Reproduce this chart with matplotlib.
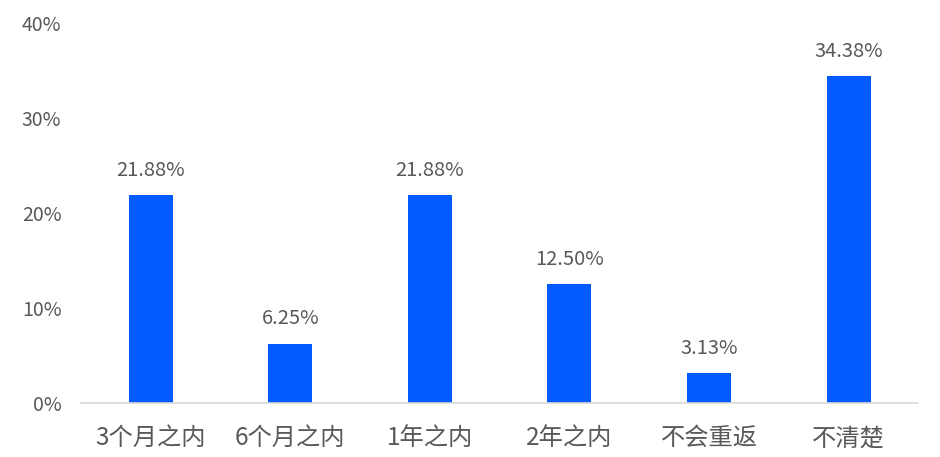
import matplotlib
matplotlib.use("Agg")
import matplotlib.pyplot as plt
from matplotlib.ticker import FuncFormatter

plt.rcParams["font.family"] = ["Noto Sans CJK SC", "DejaVu Sans"]

categories = ["3个月之内", "6个月之内", "1年之内", "2年之内", "不会重返", "不清楚"]
shares = [21.88, 6.25, 21.88, 12.50, 3.13, 34.38]
y_ticks = [0, 10, 20, 30, 40]

BAR_COLOR = "#005CFF"
TEXT_COLOR = "#595959"

fig = plt.figure(figsize=(9.4, 4.57), dpi=100)
ax = fig.add_axes([0.086, 0.118, 0.891, 0.832])

x = range(len(categories))
ax.bar(x, shares, width=0.315, color=BAR_COLOR, zorder=2)

for xi, v in zip(x, shares):
    ax.text(xi, v + 1.5, f"{v:.2f}%", ha="center", va="bottom",
            fontsize=14.5, color=TEXT_COLOR, fontweight="light")

ax.set_xlim(-0.5, len(categories) - 0.5)
ax.set_ylim(0, 40)
ax.set_yticks(y_ticks)
ax.yaxis.set_major_formatter(FuncFormatter(lambda v, p: f"{v:.0f}%"))
ax.set_xticks(list(x))
ax.set_xticklabels(categories, fontweight="light")
for lbl in ax.get_yticklabels():
    lbl.set_fontweight("light")

for side in ["left", "right", "top"]:
    ax.spines[side].set_visible(False)
ax.spines["bottom"].set_color("#D9D9D9")
ax.spines["bottom"].set_linewidth(1.2)

ax.tick_params(axis="y", length=0, labelsize=14, labelcolor=TEXT_COLOR, pad=14)
ax.tick_params(axis="x", length=0, labelsize=17.5, labelcolor=TEXT_COLOR, pad=16)

fig.savefig("out.png", dpi=100)
